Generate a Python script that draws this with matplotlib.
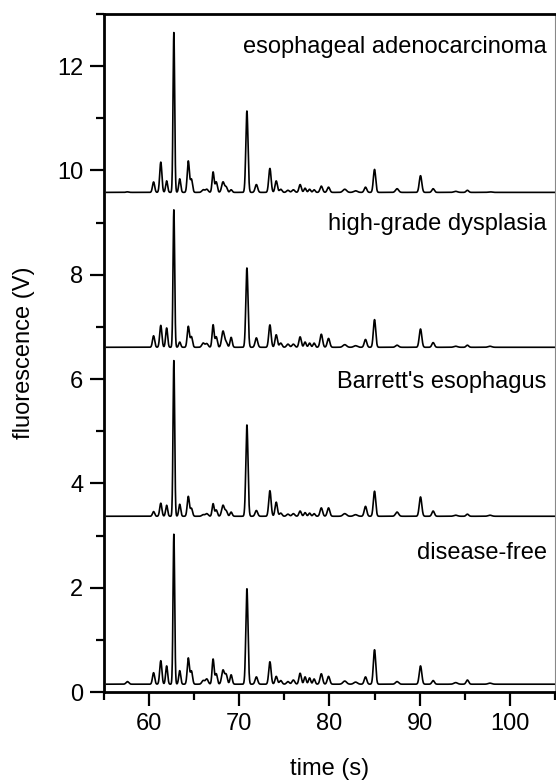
import numpy as np
import matplotlib
matplotlib.use("Agg")
import matplotlib.pyplot as plt
from matplotlib.ticker import MultipleLocator


# peak migration times (s)
peak_times = [57.6, 60.5, 61.3, 61.95, 62.75, 63.4, 64.35, 64.7, 66.0, 66.4,
              67.1, 67.45, 68.2, 68.55, 69.1, 70.85, 71.9, 73.4, 74.1, 74.6,
              75.4, 76.0, 76.75, 77.3, 77.8, 78.3, 79.1, 79.9, 81.7, 82.9,
              84.0, 85.0, 87.5, 90.1, 91.5, 94.0, 95.3, 97.8]
peak_widths = [0.15, 0.12, 0.12, 0.11, 0.09, 0.11, 0.12, 0.12, 0.15, 0.15,
               0.11, 0.12, 0.15, 0.13, 0.12, 0.12, 0.14, 0.13, 0.13, 0.14,
               0.15, 0.15, 0.13, 0.12, 0.12, 0.12, 0.14, 0.14, 0.2, 0.2,
               0.14, 0.13, 0.17, 0.14, 0.14, 0.2, 0.14, 0.2]

labels = ["disease-free", "Barrett's esophagus", "high-grade dysplasia",
          "esophageal adenocarcinoma"]
baselines = [0.15, 3.37, 6.61, 9.58]
label_y = [2.67, 5.94, 8.98, 12.37]

# peak heights above baseline (V)
h_free = [0.05, 0.22, 0.45, 0.35, 2.88, 0.26, 0.50, 0.25, 0.07, 0.10,
          0.48, 0.20, 0.27, 0.18, 0.18, 1.83, 0.14, 0.43, 0.15, 0.07,
          0.05, 0.08, 0.21, 0.14, 0.12, 0.10, 0.20, 0.15, 0.06, 0.04,
          0.14, 0.66, 0.05, 0.35, 0.07, 0.03, 0.08, 0.02]
h_barrett = [0.0, 0.09, 0.25, 0.21, 2.99, 0.23, 0.38, 0.15, 0.03, 0.05,
             0.24, 0.12, 0.21, 0.10, 0.08, 1.75, 0.11, 0.49, 0.27, 0.06,
             0.04, 0.05, 0.10, 0.07, 0.06, 0.05, 0.16, 0.16, 0.05, 0.03,
             0.19, 0.48, 0.08, 0.37, 0.10, 0.02, 0.04, 0.02]
h_hgd = [0.0, 0.22, 0.42, 0.37, 2.64, 0.10, 0.40, 0.20, 0.08, 0.07,
         0.43, 0.20, 0.31, 0.10, 0.19, 1.52, 0.18, 0.43, 0.24, 0.08,
         0.06, 0.06, 0.20, 0.10, 0.08, 0.08, 0.25, 0.17, 0.05, 0.03,
         0.15, 0.53, 0.04, 0.35, 0.09, 0.02, 0.04, 0.02]
h_eac = [0.01, 0.20, 0.58, 0.22, 3.07, 0.26, 0.60, 0.25, 0.05, 0.06,
         0.39, 0.20, 0.20, 0.10, 0.05, 1.56, 0.15, 0.46, 0.22, 0.06,
         0.04, 0.05, 0.15, 0.08, 0.06, 0.05, 0.12, 0.10, 0.06, 0.03,
         0.10, 0.44, 0.07, 0.32, 0.07, 0.02, 0.04, 0.01]
heights = [h_free, h_barrett, h_hgd, h_eac]


def trace(t, base, hts):
    y = np.full_like(t, base)
    for t0, w, h in zip(peak_times, peak_widths, hts):
        y += h * np.exp(-0.5 * ((t - t0) / w) ** 2)
    return y


fs = 17
fig = plt.figure(figsize=(5.56, 7.83), dpi=100)
ax = fig.add_axes([0.187, 0.1162, 0.811, 0.8659])

t = np.linspace(55.3, 105, 4000)
for base, hts, lab, ly in zip(baselines, heights, labels, label_y):
    ax.plot(t, trace(t, base, hts), color="black", lw=1.2)
    ax.text(104.1, ly, lab, ha="right", va="center", fontsize=fs,
            family="Liberation Sans")

ax.set_xlim(55, 105)
ax.set_ylim(0, 13)
ax.xaxis.set_major_locator(MultipleLocator(10))
ax.xaxis.set_minor_locator(MultipleLocator(5))
ax.yaxis.set_major_locator(MultipleLocator(2))
ax.yaxis.set_minor_locator(MultipleLocator(1))

ax.tick_params(which="major", direction="out", length=10, width=1.6,
               labelsize=fs, pad=5)
ax.tick_params(which="minor", direction="out", length=6, width=1.6)
for lab in ax.get_xticklabels() + ax.get_yticklabels():
    lab.set_family("Liberation Sans")

for s in ["left", "bottom", "top"]:
    ax.spines[s].set_linewidth(2)
ax.spines["right"].set_linewidth(0.8)
ax.spines["right"].set_color("#888888")

ax.set_xlabel("time (s)", fontsize=fs, family="Liberation Sans", labelpad=17)
ax.set_ylabel("fluorescence (V)", fontsize=fs, family="Liberation Sans",
              labelpad=16)

fig.savefig("out.png", dpi=100)
